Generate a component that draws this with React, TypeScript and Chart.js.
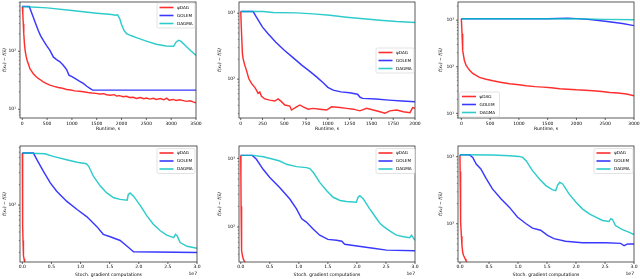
import React, { useEffect, useRef } from "react";
import { Chart, registerables } from "chart.js";

Chart.register(...registerables);

const W = 640;
const H = 279;
const FONT = "DejaVu Sans";

const SERIES_NAMES = ["ψDAG", "GOLEM", "DAGMA"];
const SERIES_COLORS = ["rgba(255,0,0,0.82)", "rgba(0,0,255,0.78)", "rgba(0,191,191,0.82)"];

// ---------- Panel 1: runtime (s) ----------
const p1PsiX = [0, 10, 20, 30, 45, 60, 80, 101, 130, 154, 190, 222, 270, 322, 370, 423, 480, 557, 640, 725, 810, 893, 980, 1060, 1150, 1229, 1320, 1400, 1480, 1565, 1640, 1700, 1780, 1850, 1900, 1960, 2030, 2100, 2160, 2236, 2300, 2380, 2450, 2500, 2572, 2640, 2700, 2780, 2850, 2908, 2960, 3040, 3100, 3170, 3244, 3310, 3380, 3440, 3500];
const p1PsiY = [591, 450, 300, 200, 130, 100, 80, 68, 58, 50, 45, 41, 37, 34, 32, 29.8, 28, 26.1, 24.8, 23.8, 23, 22, 21.5, 20.8, 20.5, 20.1, 19.5, 19.1, 18.8, 18.3, 18.6, 17.8, 17.5, 17.9, 16.9, 17.2, 16.5, 16.8, 16.0, 16.1, 15.4, 16.0, 15.2, 15.6, 15.0, 15.5, 14.8, 15.3, 14.6, 15.6, 14.4, 14.8, 14.2, 14.6, 14.1, 13.7, 14.0, 13.4, 13.0];
const p1GolemX = [0, 141, 180, 222, 270, 322, 370, 423, 490, 557, 625, 690, 759, 830, 893, 940, 1000, 1061, 1150, 1229, 1300, 1363, 1417, 2000, 2500, 3000, 3500];
const p1GolemY = [591, 591, 480, 388, 300, 229, 185, 154, 125, 104, 80, 72, 66, 57, 48.5, 38.8, 36.5, 34, 30.5, 27.9, 25, 22.9, 21.4, 21.4, 21.4, 21.4, 21.4];
const p1DagmaX = [0, 500, 1000, 1500, 1800, 1880, 1920, 1960, 2000, 2050, 2100, 2200, 2300, 2500, 2700, 2900, 3050, 3100, 3150, 3200, 3300, 3400, 3500];
const p1DagmaY = [591, 561, 505, 454, 431, 420, 425, 370, 290, 229, 201, 185, 172, 150, 132, 123, 122, 145, 154, 148, 122, 101, 85];

// ---------- Panel 2: runtime (s) ----------
const p2PsiX = [0, 8, 19, 27, 46, 65, 92, 123, 161, 180, 199, 218, 238, 276, 333, 391, 429, 467, 506, 563, 582, 640, 678, 716, 774, 831, 908, 985, 1042, 1138, 1215, 1291, 1368, 1444, 1521, 1598, 1655, 1713, 1789, 1866, 1943, 1973, 2000];
const p2PsiY = [1059, 548, 244, 205, 163, 137, 102, 86, 75, 68, 61, 64, 55, 50, 48, 46.5, 50, 45.5, 40.5, 39, 34, 38, 40.5, 38, 35, 36, 35, 34, 38, 37, 36, 35, 33, 36, 34, 32, 30.4, 33, 34, 32, 31, 37, 36];
const p2GolemX = [0, 142, 180, 250, 314, 400, 500, 600, 700, 800, 870, 946, 1000, 1061, 1150, 1250, 1340, 1370, 1400, 1550, 1700, 1850, 2000];
const p2GolemY = [1059, 1059, 870, 615, 488, 366, 274, 212, 163, 129, 108, 88, 75, 68, 64, 62, 59, 53, 51, 50, 48, 46.5, 45.5];
const p2DagmaX = [0, 257, 372, 640, 831, 1023, 1215, 1406, 1598, 1789, 2000];
const p2DagmaY = [1059, 1059, 1023, 1012, 977, 933, 870, 822, 784, 748, 723];

// ---------- Panel 3: runtime (s) ----------
const p3PsiX = [0, 12, 23, 52, 81, 140, 198, 314, 430, 547, 700, 837, 1000, 1128, 1280, 1419, 1560, 1709, 1850, 2000, 2150, 2291, 2440, 2581, 2720, 2872, 3000];
const p3PsiY = [1076, 509, 225, 138, 108, 85, 72, 59, 54, 50, 46, 43, 41, 39, 37.5, 36.5, 35.5, 33.6, 33, 32, 31.4, 30.5, 29.5, 28.1, 27.3, 25.9, 23.9];
const p3GolemX = [0, 1500, 1850, 2000, 2200, 2500, 2800, 3000];
const p3GolemY = [1076, 1076, 1095, 1080, 1040, 950, 850, 764];
const p3DagmaX = [0, 1000, 2000, 2500, 3000];
const p3DagmaY = [1076, 1076, 1070, 1040, 1020];

// ---------- Panel 4: stochastic gradient computations (x 1e7) ----------
const p4PsiX = [0, 0.002, 0.005, 0.008, 0.012, 0.016, 0.022, 0.03, 0.04, 0.05];
const p4PsiY = [583, 300, 100, 50, 30, 22, 18, 16, 14.6, 14];
const p4GolemX = [0, 0.19, 0.25, 0.36, 0.48, 0.59, 0.76, 0.94, 1.11, 1.28, 1.39, 1.51, 1.68, 1.82, 1.91, 3.0];
const p4GolemY = [583, 583, 466, 315, 212, 160, 114, 86, 67, 48, 37, 34, 30, 23.8, 20.5, 20];
const p4DagmaX = [0, 0.39, 0.53, 0.76, 0.94, 1.1, 1.14, 1.22, 1.34, 1.45, 1.57, 1.68, 1.8, 1.82, 1.85, 1.91, 2.03, 2.14, 2.25, 2.37, 2.48, 2.6, 2.63, 2.66, 2.71, 2.83, 3.0];
const p4DagmaY = [583, 570, 521, 466, 426, 407, 372, 266, 190, 151, 128, 121, 118, 143, 151, 135, 97, 69, 52, 41.7, 36, 33, 37, 35, 28, 24.6, 23];

// ---------- Panel 5: stochastic gradient computations (x 1e7) ----------
const p5PsiX = [0, 0.003, 0.006, 0.01, 0.014, 0.02, 0.03, 0.045, 0.06, 0.07, 0.09];
const p5PsiY = [1105, 500, 200, 100, 60, 45, 38, 34, 32, 30.5, 29];
const p5GolemX = [0, 0.2, 0.27, 0.385, 0.5, 0.67, 0.845, 0.96, 1.05, 1.13, 1.25, 1.36, 1.5, 1.65, 1.74, 1.79, 2.0, 2.28, 2.51, 3.0];
const p5GolemY = [1105, 1105, 968, 693, 526, 377, 256, 184, 132, 118, 93, 76, 66, 64, 62, 56, 53, 49, 46, 45];
const p5DagmaX = [0, 0.21, 0.39, 0.56, 0.67, 0.79, 0.96, 1.13, 1.19, 1.25, 1.36, 1.48, 1.59, 1.71, 1.82, 1.99, 2.02, 2.05, 2.11, 2.22, 2.34, 2.4, 2.45, 2.57, 2.68, 2.8, 2.91, 2.94, 3.0];
const p5DagmaY = [1105, 1105, 1057, 968, 915, 819, 758, 733, 709, 621, 446, 338, 271, 243, 235, 229, 271, 286, 256, 184, 132, 112, 103, 87, 76, 72, 70, 76, 64];

// ---------- Panel 6: stochastic gradient computations (x 1e7) ----------
const p6PsiX = [0, 0.003, 0.006, 0.01, 0.017, 0.025, 0.034, 0.046, 0.06, 0.075, 0.09, 0.103, 0.115, 0.125];
const p6PsiY = [1071, 600, 331, 180, 106, 65, 48, 38, 34, 32, 30, 28.5, 26.5, 25];
const p6GolemX = [0, 0.16, 0.22, 0.28, 0.36, 0.45, 0.56, 0.71, 0.85, 0.99, 1.14, 1.25, 1.39, 1.51, 1.62, 1.82, 2.11, 2.51, 2.77, 2.83, 2.89, 3.0];
const p6GolemY = [1071, 1071, 977, 778, 656, 477, 331, 235, 177, 126, 100, 86, 80, 67, 60, 55, 52, 52, 51, 47, 50, 50];
const p6DagmaX = [0, 0.56, 0.85, 1.02, 1.08, 1.14, 1.25, 1.37, 1.48, 1.59, 1.65, 1.68, 1.72, 1.77, 1.88, 2.0, 2.11, 2.23, 2.34, 2.46, 2.57, 2.6, 2.63, 2.68, 2.8, 2.91, 3.0];
const p6DagmaY = [1071, 1059, 1035, 1011, 977, 872, 620, 466, 371, 323, 312, 371, 416, 393, 279, 210, 167, 141, 126, 112, 108, 119, 116, 94, 82, 75, 69];

// ---------- Tick labels ----------
const runtimeTicksA = [0, 500, 1000, 1500, 2000, 2500, 3000, 3500];
const runtimeTicksB = [0, 250, 500, 750, 1000, 1250, 1500, 1750, 2000];
const runtimeTicksC = [0, 500, 1000, 1500, 2000, 2500, 3000];
const gradTicks = [0, 0.5, 1, 1.5, 2, 2.5, 3];
const p1YTicks = [10, 100];
const p2YTicks = [100, 1000];
const p3YTicks = [10, 100, 1000];
const p4YTicks = [100];
const p5YTicks = [100, 1000];
const p6YTicks = [100, 1000];

const RUNTIME_TITLE = "Runtime, s";
const GRAD_TITLE = "Stoch. gradient computations";
const Y_TITLE = "f(xₖ) − f(x̄)";
const OFFSET_TEXT = "1e7";

type PanelSpec = {
  series: [number[], number[]][];
  xMin: number; xMax: number; yLogMin: number; yLogMax: number;
  xTicks: number[]; yTicks: number[]; xTitle: string; grad: boolean;
  area: { l: number; r: number; t: number; b: number };
  yTitleX: number; xTitleY: number; xLabPad: number;
  legend: { x: number; y: number; w: number };
};

const PANELS: PanelSpec[] = [
  { series: [[p1PsiX, p1PsiY], [p1GolemX, p1GolemY], [p1DagmaX, p1DagmaY]], xMin: -46, xMax: 3500, yLogMin: 0.85, yLogMax: 2.85, xTicks: runtimeTicksA, yTicks: p1YTicks, xTitle: RUNTIME_TITLE, grad: false, area: { l: 20, r: 196, t: 2, b: 118 }, yTitleX: 4.5, xTitleY: 129, xLabPad: 3, legend: { x: 157, y: 3, w: 38 } },
  { series: [[p2PsiX, p2PsiY], [p2GolemX, p2GolemY], [p2DagmaX, p2DagmaY]], xMin: -20, xMax: 2000, yLogMin: 1.41, yLogMax: 3.17, xTicks: runtimeTicksB, yTicks: p2YTicks, xTitle: RUNTIME_TITLE, grad: false, area: { l: 239, r: 415, t: 2, b: 118 }, yTitleX: 220, xTitleY: 129, xLabPad: 3, legend: { x: 376, y: 48, w: 38 } },
  { series: [[p3PsiX, p3PsiY], [p3GolemX, p3GolemY], [p3DagmaX, p3DagmaY]], xMin: -58, xMax: 3000, yLogMin: 0.9, yLogMax: 3.39, xTicks: runtimeTicksC, yTicks: p3YTicks, xTitle: RUNTIME_TITLE, grad: false, area: { l: 458, r: 634, t: 2, b: 118 }, yTitleX: 441, xTitleY: 129, xLabPad: 3, legend: { x: 459.5, y: 92, w: 40 } },
  { series: [[p4PsiX, p4PsiY], [p4GolemX, p4GolemY], [p4DagmaX, p4DagmaY]], xMin: -0.04, xMax: 3, yLogMin: 1.16, yLogMax: 2.87, xTicks: gradTicks, yTicks: p4YTicks, xTitle: GRAD_TITLE, grad: true, area: { l: 20, r: 197, t: 146, b: 262 }, yTitleX: 4.5, xTitleY: 275, xLabPad: 2, legend: { x: 157, y: 148.5, w: 38 } },
  { series: [[p5PsiX, p5PsiY], [p5GolemX, p5GolemY], [p5DagmaX, p5DagmaY]], xMin: -0.03, xMax: 3, yLogMin: 1.49, yLogMax: 3.18, xTicks: gradTicks, yTicks: p5YTicks, xTitle: GRAD_TITLE, grad: true, area: { l: 239, r: 415, t: 146, b: 262 }, yTitleX: 220, xTitleY: 275, xLabPad: 2, legend: { x: 376, y: 148.5, w: 39 } },
  { series: [[p6PsiX, p6PsiY], [p6GolemX, p6GolemY], [p6DagmaX, p6DagmaY]], xMin: -0.034, xMax: 3, yLogMin: 1.43, yLogMax: 3.16, xTicks: gradTicks, yTicks: p6YTicks, xTitle: GRAD_TITLE, grad: true, area: { l: 458, r: 634, t: 146, b: 262 }, yTitleX: 441, xTitleY: 275, xLabPad: 2, legend: { x: 594, y: 148.5, w: 39 } },
];

const SUP: Record<string, string> = { "0": "⁰", "1": "¹", "2": "²", "3": "³", "4": "⁴", "5": "⁵", "6": "⁶", "7": "⁷", "8": "⁸", "9": "⁹", "-": "⁻" };
const powLabel = (v: number) => "10" + String(Math.round(Math.log10(v))).split("").map((c) => SUP[c] || c).join("");

const TICK_FONT = { family: FONT, size: 4.5 };
const LH = 4.5 * 1.2;

function makeDecorPlugin(p: PanelSpec) {
  return {
    id: "decor",
    afterDraw(chart: any) {
      const { ctx, chartArea: a, scales } = chart;
      const yMin = Math.pow(10, p.yLogMin);
      const yMax = Math.pow(10, p.yLogMax);
      ctx.save();
      // ticks
      ctx.strokeStyle = "#222";
      ctx.lineWidth = 0.7;
      ctx.beginPath();
      for (const v of p.xTicks) {
        const px = scales.x.getPixelForValue(v);
        ctx.moveTo(px, a.bottom);
        ctx.lineTo(px, a.bottom + 2);
      }
      for (const v of p.yTicks) {
        const py = scales.y.getPixelForValue(v);
        ctx.moveTo(a.left, py);
        ctx.lineTo(a.left - 2, py);
      }
      ctx.stroke();
      ctx.lineWidth = 0.5;
      ctx.beginPath();
      for (let e = Math.floor(p.yLogMin); e <= Math.ceil(p.yLogMax); e++) {
        for (let m = 2; m <= 9; m++) {
          const v = m * Math.pow(10, e);
          if (v < yMin || v > yMax) continue;
          const py = scales.y.getPixelForValue(v);
          ctx.moveTo(a.left, py);
          ctx.lineTo(a.left - 1.2, py);
        }
      }
      ctx.stroke();
      // frame
      ctx.strokeStyle = "#333";
      ctx.lineWidth = 0.8;
      ctx.strokeRect(a.left, a.top, a.right - a.left, a.bottom - a.top);
      // offset text
      ctx.fillStyle = "#000";
      ctx.font = `4.5px "${FONT}"`;
      if (p.grad) {
        ctx.textAlign = "right";
        ctx.textBaseline = "middle";
        ctx.fillText(OFFSET_TEXT, a.right, p.xTitleY - 1);
      }
      // legend
      const lg = p.legend;
      const rowH = 8;
      ctx.fillStyle = "rgba(255,255,255,0.85)";
      ctx.strokeStyle = "#d0d0d0";
      ctx.lineWidth = 0.6;
      ctx.beginPath();
      ctx.roundRect(lg.x, lg.y, lg.w, rowH * 3 + 1, 1.5);
      ctx.fill();
      ctx.stroke();
      ctx.font = `4.2px "${FONT}"`;
      ctx.textAlign = "left";
      ctx.textBaseline = "middle";
      SERIES_NAMES.forEach((name, i) => {
        const cy = lg.y + 4.5 + i * rowH;
        ctx.strokeStyle = SERIES_COLORS[i];
        ctx.lineWidth = 1.6;
        ctx.beginPath();
        ctx.moveTo(lg.x + 2.5, cy);
        ctx.lineTo(lg.x + 16.5, cy);
        ctx.stroke();
        ctx.fillStyle = "#000";
        ctx.fillText(name, lg.x + 20, cy);
      });
      ctx.restore();
    },
  };
}

function buildConfig(p: PanelSpec): any {
  const padLeft = p.yTitleX - LH / 2;
  const yW = p.area.l - padLeft;
  const xH = p.xTitleY + LH / 2 - p.area.b;
  const padBottom = H - p.area.b - xH;
  const orders = [2, 1, 0];
  return {
    type: "line",
    data: {
      datasets: p.series.map(([xs, ys], i) => ({
        label: SERIES_NAMES[i],
        data: xs.map((x, j) => ({ x, y: ys[j] })),
        borderColor: SERIES_COLORS[i],
        backgroundColor: SERIES_COLORS[i],
        borderWidth: 1.45,
        pointRadius: 0,
        tension: 0,
        fill: false,
        order: orders[i],
      })),
    },
    options: {
      responsive: false,
      animation: false,
      devicePixelRatio: 1,
      events: [],
      layout: { padding: { left: padLeft, right: W - p.area.r, top: p.area.t, bottom: padBottom } },
      plugins: { legend: { display: false }, tooltip: { enabled: false } },
      scales: {
        x: {
          type: "linear",
          position: "bottom",
          min: p.xMin,
          max: p.xMax,
          grid: { display: false, drawTicks: false },
          border: { display: false },
          ticks: {
            font: TICK_FONT,
            color: "#000",
            padding: p.xLabPad,
            autoSkip: false,
            maxRotation: 0,
            callback: (v: number) => (p.grad ? v.toFixed(1) : String(v)),
          },
          title: { display: true, text: p.xTitle, font: TICK_FONT, color: "#000", padding: 0 },
          afterBuildTicks: (s: any) => {
            s.ticks = p.xTicks.map((v) => ({ value: v }));
          },
          afterFit: (s: any) => {
            s.height = xH;
            s.paddingLeft = 0;
            s.paddingRight = 0;
          },
        },
        y: {
          type: "logarithmic",
          position: "left",
          min: Math.pow(10, p.yLogMin),
          max: Math.pow(10, p.yLogMax),
          grid: { display: false, drawTicks: false },
          border: { display: false },
          ticks: {
            font: TICK_FONT,
            color: "#000",
            padding: 4,
            autoSkip: false,
            callback: (v: number) => powLabel(v),
          },
          title: { display: true, text: Y_TITLE, font: { family: FONT, size: 4.5, style: "italic" }, color: "#000", padding: 0 },
          afterBuildTicks: (s: any) => {
            s.ticks = p.yTicks.map((v) => ({ value: v, major: true }));
          },
          afterFit: (s: any) => {
            s.width = yW;
            s.paddingTop = 0;
            s.paddingBottom = 0;
          },
        },
      },
    },
    plugins: [makeDecorPlugin(p)],
  };
}

function Panel({ p }: { p: PanelSpec }) {
  const ref = useRef<HTMLCanvasElement | null>(null);
  useEffect(() => {
    if (!ref.current) return;
    const chart = new Chart(ref.current, buildConfig(p));
    return () => chart.destroy();
  }, [p]);
  return (
    <canvas
      ref={ref}
      width={W}
      height={H}
      style={{ position: "absolute", left: 0, top: 0, width: W, height: H }}
    />
  );
}

export default function App() {
  return (
    <div style={{ position: "fixed", left: 0, top: 0, width: W, height: H, background: "#fff", overflow: "hidden" }}>
      {PANELS.map((p, i) => (
        <Panel key={i} p={p} />
      ))}
    </div>
  );
}
